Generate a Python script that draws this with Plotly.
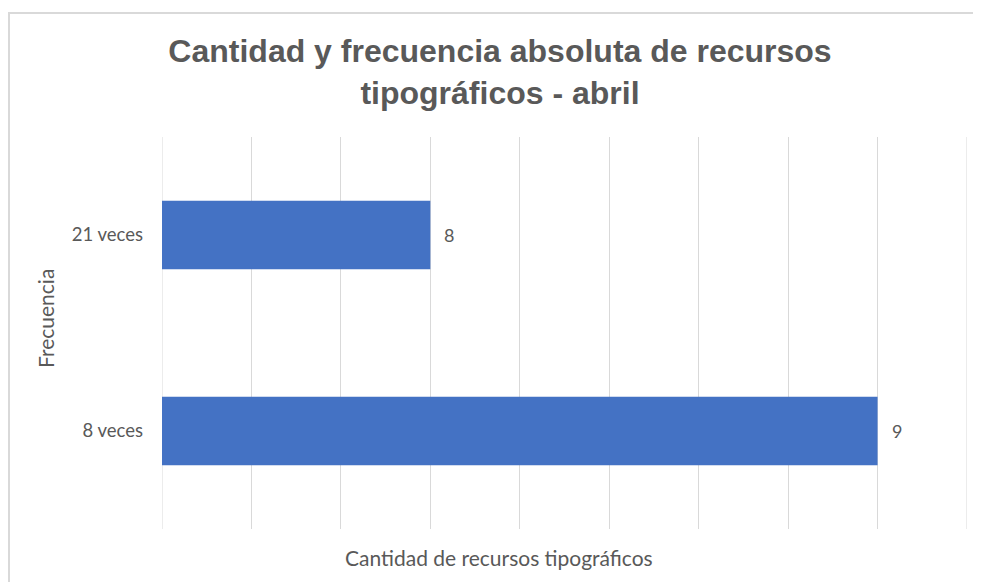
import plotly.graph_objects as go

categories = ["8 veces", "21 veces"]
values = [9, 8]
labels = ["9", "8"]

title_text = "Cantidad y frecuencia absoluta de recursos<br>tipográficos - abril"
x_title = "Cantidad de recursos tipográficos"
y_title = "Frecuencia"

X_MIN, X_MAX, X_STEP = 7.4, 9.2, 0.2

# page body has an 8px margin; figure placed at (8, 8)
OFF = 8
W, H = 981 - OFF, 582 - OFF
L, R, T, B = 162 - OFF, 14, 137 - OFF, 53
pw, ph = W - L - R, H - T - B

def px(x):
    return (x - OFF - L) / pw

def py(y):
    return (H - B - (y - OFF)) / ph

GRAY = "#595959"
GRID = "#d9d9d9"
FONT = "Lato, Noto Sans, Liberation Sans"

fig = go.Figure()
fig.add_trace(go.Bar(
    y=categories, x=values, orientation="h",
    marker=dict(color="#4472C4", line=dict(width=0)),
    width=0.35,
    cliponaxis=False,
))

annotations = [
    dict(text=t, x=v, y=c, xref="x", yref="y", showarrow=False,
         xanchor="left", yanchor="middle", xshift=12,
         font=dict(family=FONT, size=18, color=GRAY))
    for c, v, t in zip(categories, values, labels)
]
annotations += [
    dict(text=x_title, xref="paper", yref="paper", x=px(499), y=py(557),
         showarrow=False, xanchor="center", yanchor="middle",
         font=dict(family=FONT, size=21, color=GRAY)),
    dict(text=y_title, xref="paper", yref="paper", x=px(45), y=py(318),
         showarrow=False, xanchor="center", yanchor="middle", textangle=-90,
         font=dict(family=FONT, size=21, color=GRAY)),
]

shapes = [
    dict(type="line", xref="paper", yref="paper", x0=px(9), x1=px(9), y0=py(13), y1=py(590),
         line=dict(color=GRID, width=2)),
    dict(type="line", xref="paper", yref="paper", x0=px(8), x1=px(980), y0=py(13), y1=py(13),
         line=dict(color=GRID, width=2)),
]
# edge gridlines (plotly omits grid at the plot edges)
for gx in (X_MIN, X_MAX):
    shapes.append(dict(type="line", xref="x", yref="paper", x0=gx, x1=gx, y0=0, y1=1,
                       line=dict(color=GRID, width=1), layer="below"))

fig.update_layout(
    width=W, height=H,
    margin=dict(l=L, r=R, t=T, b=B),
    paper_bgcolor="white", plot_bgcolor="white",
    showlegend=False,
    title=dict(
        text=title_text, x=(500 - OFF) / W, xanchor="center",
        y=1 - (62 - OFF) / H, yanchor="middle",
        font=dict(family="Liberation Sans, Arial", size=32, color=GRAY, weight="bold"),
    ),
    xaxis=dict(
        range=[X_MIN, X_MAX], dtick=X_STEP, tick0=X_MIN, showticklabels=False,
        showgrid=True, gridcolor=GRID, gridwidth=1, zeroline=False,
        showline=False, ticks="",
    ),
    yaxis=dict(
        showgrid=False, zeroline=False, showline=False, ticks="",
        tickfont=dict(family=FONT, size=18.5, color=GRAY),
        ticklabelstandoff=18,
    ),
    annotations=annotations,
    shapes=shapes,
)

fig.write_html("out.html")
